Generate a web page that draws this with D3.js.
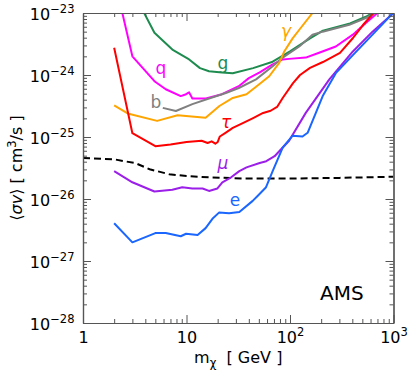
<!DOCTYPE html>
<html>
<head>
<meta charset="utf-8">
<script src="https://cdn.jsdelivr.net/npm/d3@7"></script>
<style>
  body { margin: 0; background: #fff; }
  text { font-family: "DejaVu Sans", sans-serif; }
</style>
</head>
<body>
<script>
// channel limits, [m_chi (GeV), <sigma v> (cm^3/s)]
var gData = [[3.5,2e-23],[3.9,1e-23],[4.9,4.8e-24],[7.3,2.57e-24],[10.6,1.78e-24],[13.5,1.29e-24],[16.5,1.15e-24],[22,1.10e-24],[28,1.07e-24],[44,1.29e-24],[68,1.64e-24],[100,2.4e-24],[156,3.9e-24],[208,5.2e-24],[380,6.8e-24],[540,8.7e-24],[640,1.02e-23]];
var qData = [[2,3.8e-23],[2.4,1e-23],[3,2.0e-24],[4.9,7.94e-25],[6.3,5.89e-25],[8.8,4.57e-25],[9.9,4.9e-25],[10.6,5.25e-25],[11.4,4.17e-25],[15.4,4.17e-25],[22,4.9e-25],[32,6.6e-25],[40,8.9e-25],[51,1.10e-24],[68,1.48e-24],[85,1.78e-24],[98,1.82e-24],[142,1.91e-24],[191,2.29e-24],[277,2.88e-24],[405,4.47e-24],[540,6.9e-24],[700,1e-23]];
var bData = [[5.9,2.95e-25],[7.9,2.63e-25],[11.4,3.39e-25],[16.5,4.17e-25],[24,5.13e-25],[32,6.17e-25],[47,8.5e-25],[68,1.38e-24],[85,1.91e-24],[123,2.88e-24],[165,4.47e-24],[207,5.0e-24],[374,6.45e-24],[540,8.3e-24],[680,1.02e-23]];
var gammaData = [[2,3.24e-25],[2.7,2.4e-25],[5.2,1.82e-25],[8.2,2.24e-25],[15.3,2.04e-25],[20.8,3.16e-25],[28,4.27e-25],[38,4.9e-25],[47,6.46e-25],[63,9.55e-25],[79,1.58e-24],[88,2.4e-24],[106,3.9e-24],[123,5.37e-24],[165,1e-23]];
var tauData = [[2,2.75e-24],[3,1.15e-25],[5,7.1e-26],[7,7.6e-26],[10,8.3e-26],[14,8.7e-26],[16,8.0e-26],[17.5,8.5e-26],[19,7.8e-26],[20,8.3e-26],[21,1.02e-25],[24,1.18e-25],[28,1.40e-25],[35,1.68e-25],[44,2.02e-25],[55,2.44e-25],[65,2.65e-25],[75,3.05e-25],[85,4.26e-25],[107,7.4e-25],[125,1.0e-24],[156,1.30e-24],[208,1.62e-24],[304,2.27e-24],[406,3.95e-24],[507,6.4e-24],[640,1.0e-23]];
var muData = [[2,2.82e-26],[3,1.86e-26],[4.9,1.32e-26],[7.3,1.41e-26],[9.1,1.55e-26],[11.4,1.48e-26],[14.3,1.48e-26],[16.5,1.35e-26],[19.9,1.48e-26],[22.2,1.86e-26],[27,2.24e-26],[32.4,2.82e-26],[38,3.24e-26],[51,3.8e-26],[59,4.07e-26],[71,4.9e-26],[85,6.76e-26],[98,8.7e-26],[142,2.45e-25],[240,8.5e-25],[405,2.4e-24],[627,5.0e-24],[1000,1e-23]];
var eData = [[2,4.07e-27],[3,2.0e-27],[5,2.82e-27],[6.3,2.82e-27],[8.8,2.51e-27],[9.9,2.75e-27],[12.8,2.63e-27],[15.3,3.39e-27],[17.8,4.79e-27],[20.6,6.03e-27],[25.8,5.89e-27],[32.4,6.17e-27],[43.6,9.33e-27],[48.6,1.12e-26],[58.7,1.55e-26],[68,2.82e-26],[85,6.76e-26],[98.5,9.1e-26],[106,1.05e-25],[132,1.02e-25],[148,1.17e-25],[207,4.57e-25],[277,1.07e-24],[405,2.09e-24],[627,4.47e-24],[1000,1.02e-23]];
var thermalData = [[1,4.57e-26],[2,4.37e-26],[2.5,4.07e-26],[3.2,3.8e-26],[4.4,3.02e-26],[6.8,2.51e-26],[10,2.34e-26],[16.6,2.24e-26],[35,2.14e-26],[100,2.14e-26],[300,2.19e-26],[1000,2.29e-26]];

var xMajor = [1, 10, 100, 1000];
var xLabels = [["1", ""], ["10", ""], ["10", "2"], ["10", "3"]];
var yMajor = [1e-28, 1e-27, 1e-26, 1e-25, 1e-24, 1e-23];
var yLabels = ["\u221228", "\u221227", "\u221226", "\u221225", "\u221224", "\u221223"];

var curves = [
  {data: gData, color: "#1e8c4f", label: "g", lx: 223, ly: 69, italic: false},
  {data: qData, color: "#ff00ff", label: "q", lx: 161, ly: 74, italic: false},
  {data: bData, color: "#808080", label: "b", lx: 156, ly: 107.5, italic: false},
  {data: gammaData, color: "#ffa500", label: "\u03b3", lx: 286, ly: 37, italic: true},
  {data: tauData, color: "#ff0000", label: "\u03c4", lx: 226, ly: 128, italic: true},
  {data: muData, color: "#9b1fe8", label: "\u03bc", lx: 223, ly: 169, italic: true},
  {data: eData, color: "#1a66ff", label: "e", lx: 235, ly: 206, italic: false}
];

var width = 416, height = 378,
    pLeft = 83, pRight = 393.5, pTop = 13, pBottom = 323;

var svg = d3.select("body").append("svg").attr("width", width).attr("height", height);

var x = d3.scaleLog().domain([1, 1000]).range([pLeft, pRight]);
var y = d3.scaleLog().domain([1e-28, 1e-23]).range([pBottom, pTop]);

function minors(lo, hi) {
  var out = [];
  for (var p = lo; p < hi; p++)
    for (var k = 2; k <= 9; k++) out.push(k * Math.pow(10, p));
  return out;
}
var xMinor = minors(0, 3), yMinor = minors(-28, -23);

svg.append("clipPath").attr("id", "plot")
  .append("rect").attr("x", pLeft).attr("y", pTop)
  .attr("width", pRight - pLeft).attr("height", pBottom - pTop);

var line = d3.line()
    .x(function(d) { return x(d[0]); })
    .y(function(d) { return y(d[1]); });

var plot = svg.append("g").attr("clip-path", "url(#plot)");

plot.append("path")
    .datum(thermalData)
    .attr("fill", "none")
    .attr("stroke", "#000")
    .attr("stroke-width", 2)
    .attr("stroke-dasharray", "7,4")
    .attr("d", line);

curves.forEach(function(c) {
  plot.append("path")
      .datum(c.data)
      .attr("fill", "none")
      .attr("stroke", c.color)
      .attr("stroke-width", 2)
      .attr("stroke-linejoin", "round")
      .attr("d", line);
  svg.append("text")
      .attr("x", c.lx).attr("y", c.ly)
      .attr("text-anchor", "middle")
      .attr("font-size", 17)
      .attr("font-style", c.italic ? "italic" : null)
      .attr("fill", c.color)
      .text(c.label);
});

// axes: ticks pointing inward on all four sides
var axisColor = "#555";
function drawAxis(axisFn, scale, major, minor, transform) {
  svg.append("g").attr("transform", transform).attr("color", axisColor)
      .call(axisFn(scale).tickValues(minor)
            .tickSizeInner(-4).tickSizeOuter(0).tickFormat(""));
  return svg.append("g").attr("transform", transform).attr("color", axisColor)
      .call(axisFn(scale).tickValues(major)
            .tickSizeInner(-8).tickSizeOuter(0).tickFormat(""));
}

var bottomAxis = drawAxis(d3.axisBottom, x, xMajor, xMinor, "translate(0," + pBottom + ")");
drawAxis(d3.axisTop, x, xMajor, xMinor, "translate(0," + pTop + ")");
var leftAxis = drawAxis(d3.axisLeft, y, yMajor, yMinor, "translate(" + pLeft + ",0)");
drawAxis(d3.axisRight, y, yMajor, yMinor, "translate(" + pRight + ",0)");
svg.selectAll(".domain").attr("stroke-width", 1.2);

bottomAxis.selectAll(".tick").append("text")
    .attr("y", 19.5).attr("fill", "#000").attr("font-size", 16)
    .attr("text-anchor", "middle")
    .each(function(d, i) {
      var t = d3.select(this);
      t.append("tspan").text(xLabels[i][0]);
      if (xLabels[i][1]) t.append("tspan").attr("font-size", 11.5).attr("dy", -7).text(xLabels[i][1]);
    });

leftAxis.selectAll(".tick").append("text")
    .attr("x", -8.5).attr("dy", 6.5).attr("fill", "#000").attr("font-size", 16)
    .attr("text-anchor", "end")
    .each(function(d, i) {
      var t = d3.select(this);
      t.append("tspan").text("10");
      t.append("tspan").attr("font-size", 11.5).attr("dy", -7.4).text(yLabels[i]);
    });

// axis titles
var xt = svg.append("text")
    .attr("x", (pLeft + pRight) / 2).attr("y", 362.5)
    .attr("text-anchor", "middle").attr("font-size", 16);
xt.append("tspan").text("m");
xt.append("tspan").attr("font-size", 11.5).attr("dy", 4).text("\u03c7");
xt.append("tspan").attr("dy", -4).text("\u00a0\u00a0[\u00a0GeV\u00a0]");

var yt = svg.append("text")
    .attr("transform", "translate(22," + (pTop + pBottom) / 2 + ") rotate(-90)")
    .attr("text-anchor", "middle").attr("font-size", 16);
yt.append("tspan").text("\u27e8");
yt.append("tspan").attr("font-style", "italic").text("\u03c3v");
yt.append("tspan").text("\u27e9\u00a0[\u00a0cm");
yt.append("tspan").attr("font-size", 11.5).attr("dy", -6).text("3");
yt.append("tspan").attr("dy", 6).text("/s\u00a0]");

svg.append("text")
    .attr("x", 320).attr("y", 300)
    .attr("font-size", 20).attr("fill", "#000")
    .text("AMS");
</script>
</body>
</html>
